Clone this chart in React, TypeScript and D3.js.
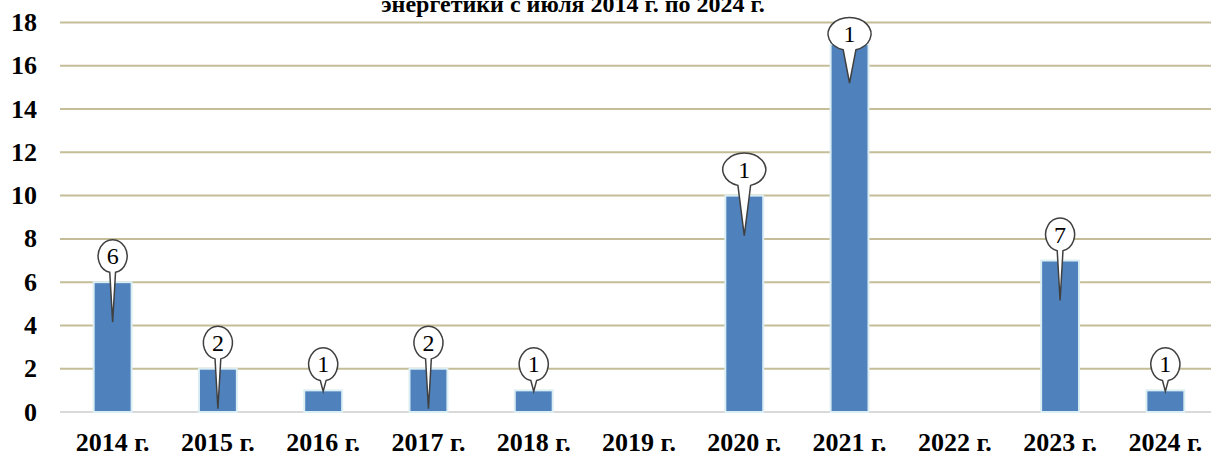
import React from "react";
import * as d3 from "d3";

const categories = ["2014 г.", "2015 г.", "2016 г.", "2017 г.", "2018 г.", "2019 г.", "2020 г.", "2021 г.", "2022 г.", "2023 г.", "2024 г."];
const values = [6, 2, 1, 2, 1, 0, 10, 17, 0, 7, 1];
const labels = ["6", "2", "1", "2", "1", "", "1", "1", "", "7", "1"];
const yTicks = [0, 2, 4, 6, 8, 10, 12, 14, 16, 18];
const titleLine = "энергетики с июля 2014 г. по 2024 г.";
// callout pointer style: long or short
const pointerKind = ["long", "long", "short", "long", "short", "", "long", "mid", "", "long", "short"];

const W = 1211;
const H = 455;
const M = { left: 60, right: -7, top: 22.5, bottom: 43 };

export default function App() {
  const x = d3.scaleBand<string>().domain(categories).range([M.left, W - M.right]).paddingInner(0.64).paddingOuter(0.32);
  const y = d3.scaleLinear().domain([0, 18]).range([H - M.bottom, M.top]);
  const font = "Liberation Serif, Times New Roman, serif";

  const callout = (i: number) => {
    if (!labels[i]) return null;
    const wide = String(values[i]).length > 1;
    const rx = wide ? 21.5 : 14.5;
    const ry = 16.5;
    const cx = x(categories[i])! + x.bandwidth() / 2;
    const top = y(values[i]);
    const cy = Math.max(top - 26, 34);
    const len = pointerKind[i] === "long" ? 66 : pointerKind[i] === "mid" ? 49 : 27;
    const tipY = cy + len;
    const a = wide ? 0.3 : 0.2;
    const x1 = cx - rx * Math.sin(a), y1 = cy + ry * Math.cos(a);
    const x2 = cx + rx * Math.sin(a), y2 = y1;
    const d = `M${x1},${y1} L${cx},${tipY} L${x2},${y2} A${rx},${ry} 0 1 0 ${x1},${y1} Z`;
    return (
      <g key={"c" + i}>
        <path d={d} fill="#fff" stroke="#404040" strokeWidth={1.5} />
        <text x={cx} y={cy + 8} textAnchor="middle" fontFamily={font} fontSize={24} fill="#000">
          {labels[i]}
        </text>
      </g>
    );
  };

  return (
    <svg width={W} height={H} style={{ position: "absolute", left: 0, top: 0, background: "#fff" }}>
      <text x={573} y={12} textAnchor="middle" fontFamily={font} fontWeight="bold" fontSize={24} fill="#000">
        {titleLine}
      </text>
      {yTicks.map((t) => (
        <g key={t}>
          {t > 0 && <line x1={M.left} x2={W} y1={y(t)} y2={y(t)} stroke="#c4bd97" strokeWidth={2} />}
          <text x={37} y={y(t) + 8.5} textAnchor="end" fontFamily={font} fontWeight="bold" fontSize={26} fill="#000">
            {t}
          </text>
        </g>
      ))}
      <line x1={M.left} x2={W} y1={y(0)} y2={y(0)} stroke="#d9d9d9" strokeWidth={2} />
      {categories.map((c, i) =>
        values[i] > 0 ? (
          <rect key={c} x={x(c)!} y={y(values[i])} width={x.bandwidth()} height={y(0) - y(values[i])} fill="#4f81bd" stroke="#dbeef4" strokeWidth={2} />
        ) : null
      )}
      {categories.map((c) => (
        <text key={"l" + c} x={x(c)! + x.bandwidth() / 2} y={451} textAnchor="middle" fontFamily={font} fontWeight="bold" fontSize={26} fill="#000">
          {c}
        </text>
      ))}
      {categories.map((c, i) => callout(i))}
    </svg>
  );
}
